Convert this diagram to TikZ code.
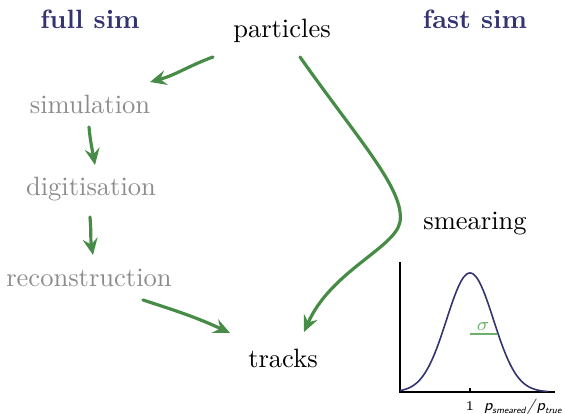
\documentclass[tikz,border=0pt]{standalone}
\usepackage{amsmath}
\usetikzlibrary{arrows.meta}

\definecolor{structblue}{RGB}{51,51,112}
\definecolor{stepgray}{RGB}{140,140,140}
\definecolor{flowgreen}{RGB}{70,140,70}
\definecolor{sigmagreen}{RGB}{110,175,110}

\newcommand{\ratiosub}[1]{\raisebox{-0.8pt}{\fontsize{3.5}{4}\selectfont #1}}

\begin{document}
\begin{tikzpicture}[
    x=0.377pt, y=-0.377pt,
    title/.style={font=\normalsize\bfseries, text=structblue},
    stage/.style={font=\normalsize, text=stepgray},
    endpoint/.style={font=\normalsize, text=black},
    flow/.style={-{Stealth[length=6.2pt, width=5.6pt, inset=2.2pt]}, line width=1.2pt, draw=flowgreen, line cap=round},
    axis/.style={draw=black, line width=0.5pt}
]
\useasboundingbox (0,0) rectangle (565,414);

% Headings
\node[title] (full) at (90,19) {full sim};
\node[title] (fast) at (475,19) {fast sim};

% Chain
\node[endpoint] (particles) at (282,31) {particles};
\node[stage] (simulation) at (90,104) {simulation};
\node[stage] (digitisation) at (91,189) {digitisation};
\node[stage] (reconstruction) at (89,278) {reconstruction};
\node[endpoint] (tracks) at (283,358) {tracks};
\node[endpoint] (smearing) at (475,224) {smearing};

% Resolution sketch
\coordinate (origin) at (400,392);
\coordinate (ytop) at (400,262);
\coordinate (xend) at (555,392);
\draw[axis] (ytop) -- (origin) -- (xend);
\draw[structblue, line width=0.6pt] plot[domain=400:548, samples=90] (\x, {392-119*exp(-((\x-470)/23.5)^2/2)});
\draw[axis] (470,392) -- (470,388);
\node[font=\tiny, inner sep=0pt, anchor=base] (one) at (470,411) {1};
\node[font=\fontsize{5.8}{7}\selectfont\sffamily\itshape, inner sep=0pt, anchor=base east] (ratio) at (562,411) {p\ratiosub{smeared}\kern0.5pt/\kern0.5pt p\ratiosub{true}};
\draw[sigmagreen, line width=0.7pt] (470,334) -- (497,334);
\node[font=\scriptsize, text=sigmagreen] (sigma) at (483,327) {$\sigma$};

% Arrows
\coordinate (bend) at ([shift={(-75,-2)}]smearing.center);
\draw[flow] ([shift={(-69,26)}]particles.center) to[out=200, in=15] ([shift={(60,-22)}]simulation.center);
\draw[flow] ([shift={(-1,23)}]simulation.center) to[out=-85, in=100] ([shift={(4,-24)}]digitisation.center);
\draw[flow] ([shift={(-1,28)}]digitisation.center) to[out=-85, in=100] ([shift={(4,-23)}]reconstruction.center);
\draw[flow] ([shift={(54,22)}]reconstruction.center) to[out=-18, in=155] ([shift={(-53,-25)}]tracks.center);
\draw[flow] ([shift={(18,26)}]particles.center) .. controls +(60,85) and +(5,-32) .. (bend) .. controls +(-5,26) and +(27,-61) .. ([shift={(21,-26)}]tracks.center);
\end{tikzpicture}
\end{document}
